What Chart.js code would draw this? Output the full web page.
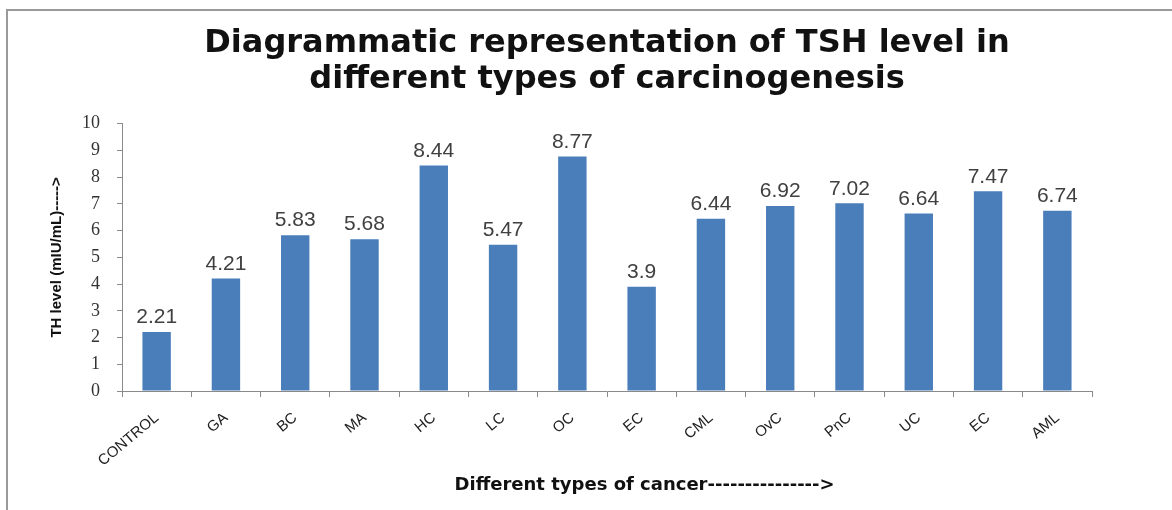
<!DOCTYPE html>
<html>
<head>
<meta charset="utf-8">
<script src="https://cdn.jsdelivr.net/npm/chart.js@4"></script>
<style>
  html, body { margin:0; padding:0; background:#fff; }
  #wrap { position:relative; width:1172px; height:510px; overflow:hidden; }
  #frame { position:absolute; left:6px; top:9px; right:-4px; bottom:-4px;
           border-left:2px solid #9a9a9a; border-top:2px solid #9a9a9a; }
  canvas { position:absolute; left:0; top:0; }
</style>
</head>
<body>
<div id="wrap">
  <div id="frame"></div>
  <canvas id="c" width="1172" height="510"></canvas>
</div>
<script>
// ── data ─────────────────────────────────────────────
const categories = ["CONTROL","GA","BC","MA","HC","LC","OC","EC","CML","OvC","PnC","UC","EC","AML"];
const tshValues  = [2.21, 4.21, 5.83, 5.68, 8.44, 5.47, 8.77, 3.9, 6.44, 6.92, 7.02, 6.64, 7.47, 6.74];
const titleLines = ["Diagrammatic representation of TSH level in", "different types of carcinogenesis"];
const yTitle     = "TH level (mIU/mL)----->";
const xTitle     = "            Different types of cancer--------------->";

// ── value labels above bars ──────────────────────────
const valueLabels = {
  id: "valueLabels",
  afterDatasetsDraw(c) {
    const { ctx } = c;
    const meta = c.getDatasetMeta(0);
    ctx.save();
    ctx.font = "21px 'Liberation Sans', Arial, sans-serif";
    ctx.fillStyle = "#404040";
    ctx.textAlign = "center";
    ctx.textBaseline = "bottom";
    meta.data.forEach((bar, i) => {
      ctx.fillText(String(tshValues[i]), bar.x, bar.y - 4);
    });
    ctx.restore();
  }
};

const ctx = document.getElementById("c").getContext("2d");
new Chart(ctx, {
  type: "bar",
  data: {
    labels: categories,
    datasets: [{
      data: tshValues,
      backgroundColor: "#4A7EBB",
      borderWidth: 0,
      barPercentage: 0.41,
      categoryPercentage: 1.0,
    }]
  },
  options: {
    responsive: false,
    animation: false,
    layout: { padding: { left: 48, right: 80, top: 0, bottom: 14 } },
    scales: {
      x: {
        grid: { display: true, drawOnChartArea: false, drawTicks: true, tickLength: 6, color: "#8a8a8a", offset: true },
        border: { color: "#8a8a8a", width: 1 },
        ticks: {
          color: "#222", minRotation: 40, maxRotation: 40, padding: 12,
          font: { family: "'Liberation Sans', Arial, sans-serif", size: 15 },
        },
        title: {
          display: true, text: xTitle, color: "#111",
          font: { family: "'DejaVu Sans', sans-serif", size: 18, weight: "bold" },
          padding: { top: 0, bottom: 0 },
        },
        afterFit: (s) => { s.height = 510 - 391 - 14; },
      },
      y: {
        min: 0, max: 10,
        grid: { display: true, drawOnChartArea: false, drawTicks: true, tickLength: 5, color: "#8a8a8a" },
        border: { color: "#8a8a8a", width: 1 },
        ticks: {
          stepSize: 1, color: "#333", padding: 17,
          font: { family: "'Liberation Serif', 'Times New Roman', serif", size: 18 },
        },
        title: {
          display: true, text: yTitle, color: "#111",
          font: { family: "'Liberation Sans', Arial, sans-serif", size: 15, weight: "bold" },
          padding: { top: 0, bottom: 0 },
        },
        afterFit: (s) => { s.width = 122 - 48; },
      },
    },
    plugins: {
      legend: { display: false },
      tooltip: { enabled: false },
      title: {
        display: true, text: titleLines, color: "#111", fullSize: false,
        font: { family: "'DejaVu Sans', sans-serif", size: 32, weight: "bold", lineHeight: 1.12 },
        padding: { top: 26, bottom: 26 },
      },
    },
  },
  plugins: [valueLabels],
});
</script>
</body>
</html>
